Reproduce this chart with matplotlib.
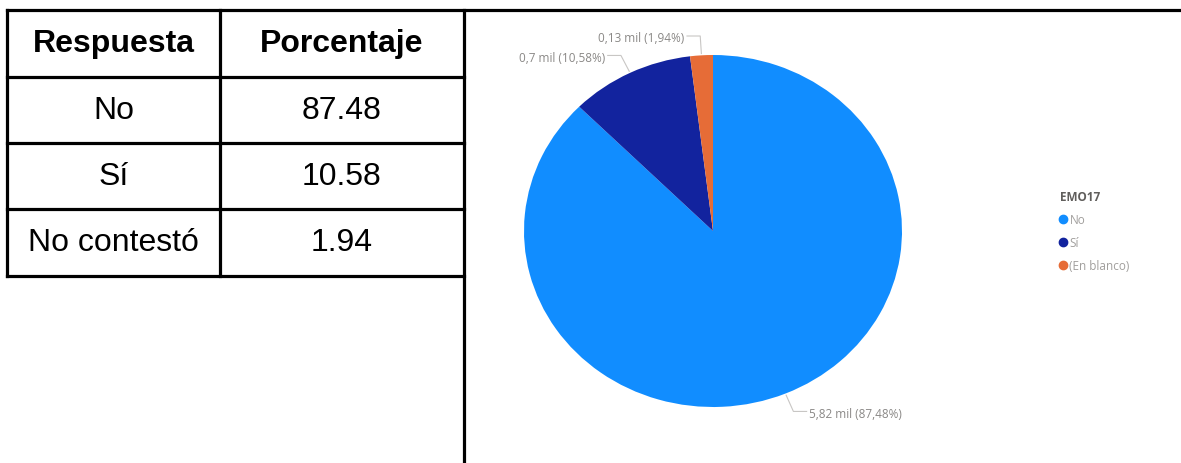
import matplotlib
matplotlib.use("Agg")
import matplotlib.pyplot as plt
from matplotlib.lines import Line2D
import numpy as np

# ---------------- data ----------------
table_header = ["Respuesta", "Porcentaje"]
table_rows = ["No", "Sí", "No contestó"]
table_values = [87.48, 10.58, 1.94]

pie_categories = ["No", "Sí", "(En blanco)"]
pie_counts_mil = [5.82, 0.7, 0.13]
pie_percent = [87.48, 10.58, 1.94]
pie_colors = ["#118DFF", "#12239E", "#E66C37"]
legend_title = "EMO17"

# ---------------- figure ----------------
W, H = 1181, 464
fig = plt.figure(figsize=(W / 100, H / 100), dpi=100)
fig.patch.set_facecolor("white")

bg = fig.add_axes([0, 0, 1, 1])
bg.set_xlim(0, W)
bg.set_ylim(H, 0)
bg.axis("off")

FONT = "Liberation Sans"
lw = 2.3
# table grid (layout)
x_left, x_mid, x_right = 7, 220, 464
row_edges = [10.5, 78, 144, 210, 276.5]
bg.plot([x_left, W], [row_edges[0]] * 2, color="black", lw=lw, solid_capstyle="projecting")
for y in row_edges[1:]:
    bg.plot([x_left, x_right], [y, y], color="black", lw=lw, solid_capstyle="projecting")
bg.plot([x_left, x_left], [row_edges[0], row_edges[-1]], color="black", lw=lw, solid_capstyle="projecting")
bg.plot([x_mid, x_mid], [row_edges[0], row_edges[-1]], color="black", lw=lw, solid_capstyle="projecting")
bg.plot([x_right, x_right], [row_edges[0], H + 5], color="black", lw=lw, solid_capstyle="projecting")

c1 = (x_left + x_mid) / 2
c2 = (x_mid + x_right) / 2
fs = 23
yc = (row_edges[0] + row_edges[1]) / 2
bg.text(c1, yc, table_header[0], ha="center", va="center", fontsize=fs, fontweight="bold", family=FONT)
bg.text(c2, yc, table_header[1], ha="center", va="center", fontsize=fs, fontweight="bold", family=FONT)
for i, (lab, val) in enumerate(zip(table_rows, table_values)):
    yc = (row_edges[i + 1] + row_edges[i + 2]) / 2
    bg.text(c1, yc, lab, ha="center", va="center", fontsize=fs, family=FONT)
    bg.text(c2, yc, f"{val:.2f}", ha="center", va="center", fontsize=fs, family=FONT)

# ---------------- pie ----------------
ax_left = 470
cx, cy, rx, ry = 713, 232, 189, 176
ax = fig.add_axes([ax_left / W, 0, (W - ax_left) / W, 1])
ax.patch.set_visible(False)
wedges, _ = ax.pie(pie_percent, colors=pie_colors, startangle=90, counterclock=False,
                   radius=1, center=(0, 0), frame=False,
                   wedgeprops=dict(linewidth=0, edgecolor="none"))
ax.set_aspect("auto")
ax.set_xlim((ax_left - cx) / rx, (W - cx) / rx)
ax.set_ylim(-(H - cy) / ry, cy / ry)
ax.axis("off")

label_color = "#8a8886"
line_color = "#c8c6c4"
for w, c, p in zip(wedges, pie_counts_mil, pie_percent):
    theta = np.deg2rad((w.theta1 + w.theta2) / 2)
    ex, ey = np.cos(theta) * 1.01, np.sin(theta) * 1.01
    bx, by = np.cos(theta) * 1.11, np.sin(theta) * 1.11
    d = -1 if np.cos(theta) < 0 else 1
    hx = bx + d * 0.07
    ax.plot([ex, bx, hx], [ey, by, by], color=line_color, lw=0.8, clip_on=False)
    txt = f"{('%g' % c).replace('.', ',')} mil ({f'{p:.2f}'.replace('.', ',')}%)"
    ax.text(hx + d * 0.015, by - 0.01, txt, ha="right" if d < 0 else "left", va="center",
            fontsize=8.5, color=label_color, family="Open Sans")

# ---------------- legend ----------------
handles = [Line2D([], [], marker="o", linestyle="none", markersize=6,
                  markerfacecolor=col, markeredgecolor=col) for col in pie_colors]
leg = fig.legend(handles, pie_categories, title=legend_title, loc="upper left",
                 bbox_to_anchor=(1060 / W, 1 - 191 / H), frameon=False,
                 fontsize=8.5, title_fontsize=8.5, alignment="left",
                 handlelength=0.5, handletextpad=0.3, labelspacing=0.85,
                 borderpad=0, borderaxespad=0)
for t in leg.get_texts():
    t.set_color("#a19f9d")
    t.set_family("Open Sans")
leg.get_title().set_color("#605e5c")
leg.get_title().set_fontweight("bold")
leg.get_title().set_family("Open Sans")

fig.savefig("out.png", dpi=100, facecolor="white")
